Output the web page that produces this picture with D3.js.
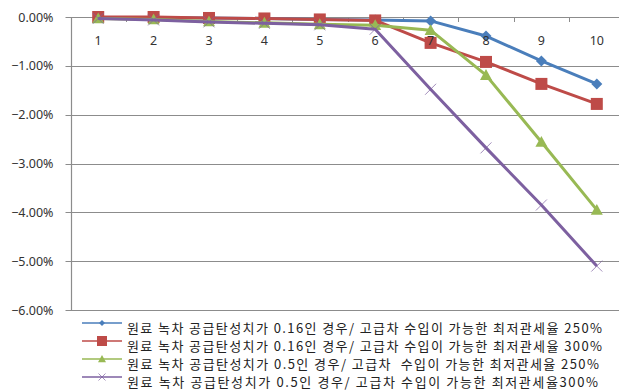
<!DOCTYPE html>
<html><head><meta charset="utf-8">
<script src="https://cdn.jsdelivr.net/npm/d3@7"></script>
<style>
body{margin:0;background:#fff;}
text{font-family:"Noto Sans CJK KR","Noto Sans",sans-serif;}
</style></head>
<body><svg id="chart" width="619" height="391"></svg>
<script>
const categories = [1,2,3,4,5,6,7,8,9,10];
const yTicks = [0,-1,-2,-3,-4,-5,-6];
const seriesNames = [
  "원료 녹차 공급탄성치가 0.16인 경우/ 고급차 수입이 가능한 최저관세율 250%",
  "원료 녹차 공급탄성치가 0.16인 경우/ 고급차 수입이 가능한 최저관세율 300%",
  "원료 녹차 공급탄성치가 0.5인 경우/ 고급차  수입이 가능한 최저관세율 250%",
  "원료 녹차 공급탄성치가 0.5인 경우/ 고급차 수입이 가능한 최저관세율300%"
];
const blueValues   = [-0.01,-0.01,-0.02,-0.03,-0.05,-0.06,-0.08,-0.39,-0.90,-1.37];
const redValues    = [0.00,0.00,-0.02,-0.03,-0.05,-0.07,-0.53,-0.92,-1.37,-1.78];
const greenValues  = [-0.03,-0.05,-0.09,-0.12,-0.15,-0.17,-0.27,-1.19,-2.56,-3.95];
const purpleValues = [-0.03,-0.06,-0.10,-0.13,-0.16,-0.25,-1.48,-2.68,-3.85,-5.10];

const colors = ["#4A7EBB","#BE4B48","#98B954","#7D60A0"];
const markers = ["diamond","square","triangle","cross"];
const allValues = [blueValues, redValues, greenValues, purpleValues];

const svg = d3.select("#chart");
const plotLeft = 70.5, plotRight = 624.5, plotTop = 17, plotBottom = 310;

const x = d3.scaleBand().domain(categories).range([plotLeft, plotRight]);
const y = d3.scaleLinear().domain([0,-6]).range([plotTop, plotBottom]);

// gridlines
svg.append("g").selectAll("line").data(yTicks).join("line")
  .attr("x1", plotLeft-5).attr("x2", 619)
  .attr("y1", d=>Math.round(y(d))+0.5).attr("y2", d=>Math.round(y(d))+0.5)
  .attr("stroke","#8c8c8c").attr("stroke-width",1);

// y axis labels
const yAxis = d3.axisLeft(y).tickValues(yTicks).tickSize(0).tickPadding(0)
  .tickFormat(d => d3.format(".2f")(d) + "%");
const ya = svg.append("g").attr("transform",`translate(${plotLeft-17},0)`).call(yAxis);
ya.select(".domain").remove();
ya.selectAll("text").attr("font-size",12.5).attr("fill","#333")
  .style("font-family","'Noto Sans','DejaVu Sans',sans-serif");

// vertical axis line
svg.append("line").attr("x1",Math.round(plotLeft)+0.5).attr("x2",Math.round(plotLeft)+0.5)
  .attr("y1",plotTop).attr("y2",plotBottom).attr("stroke","#8c8c8c").attr("stroke-width",1.2);

// category tick marks on the zero line
svg.append("g").selectAll("line").data(categories.slice(1)).join("line")
  .attr("x1", d=>Math.round(x(d))+0.5).attr("x2", d=>Math.round(x(d))+0.5)
  .attr("y1", y(0)).attr("y2", y(0)+5).attr("stroke","#8c8c8c");

const cx = d => x(d) + x.bandwidth()/2;
const line = d3.line().x((d,i)=>cx(categories[i])).y(d=>y(d));

function drawMarker(g, type, color, px, py, s) {
  if (type === "diamond") {
    g.append("path").attr("d",`M${px},${py-s}L${px+s},${py}L${px},${py+s}L${px-s},${py}Z`).attr("fill",color);
  } else if (type === "square") {
    g.append("rect").attr("x",px-s).attr("y",py-s).attr("width",2*s).attr("height",2*s).attr("fill",color);
  } else if (type === "triangle") {
    g.append("path").attr("d",`M${px},${py-s}L${px+s},${py+s*0.8}L${px-s},${py+s*0.8}Z`).attr("fill",color);
  } else {
    g.append("path").attr("d",`M${px-s},${py-s}L${px+s},${py+s}M${px-s},${py+s}L${px+s},${py-s}`)
      .attr("stroke",color).attr("stroke-width",1).attr("fill","none").attr("opacity",0.7);
  }
}

const sizes = [5.5,6,6,5.5];
allValues.forEach((vals, k) => {
  const g = svg.append("g");
  g.append("path").datum(vals).attr("d", line).attr("fill","none")
    .attr("stroke", colors[k]).attr("stroke-width", 3).attr("stroke-linejoin","round");
  vals.forEach((v,i) => drawMarker(g, markers[k], colors[k], cx(categories[i]), y(v), sizes[k]));
});

// category labels under zero line, on top of the series
const xAxis = d3.axisBottom(x).tickSize(0).tickPadding(0);
const xa = svg.append("g").attr("transform",`translate(0,${y(0)+19})`).call(xAxis);
xa.select(".domain").remove();
xa.selectAll("text").attr("font-size",12.5).attr("fill","#333")
  .style("font-family","'Noto Sans','DejaVu Sans',sans-serif");

// legend
const legY = [328, 346, 364, 382];
const legEnd = [602, 602, 599, 598];
const lsizes = [3,5,4,3.5];
seriesNames.forEach((name, k) => {
  const g = svg.append("g");
  g.append("line").attr("x1",82).attr("x2",122).attr("y1",legY[k]-5).attr("y2",legY[k]-5)
    .attr("stroke",colors[k]).attr("stroke-width",1.5);
  drawMarker(g, markers[k], colors[k], 102, legY[k]-5, lsizes[k]);
  g.append("text").attr("x",127).attr("y",legY[k]+5).attr("font-size",13)
    .attr("fill","#222").style("white-space","pre")
    .attr("textLength", legEnd[k]-127).attr("lengthAdjust","spacing").text(name);
});
</script></body></html>
